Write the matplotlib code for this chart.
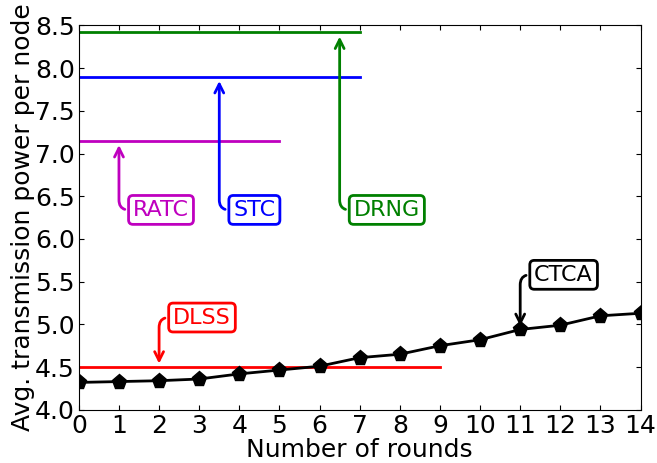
import matplotlib
matplotlib.use("Agg")
import matplotlib.pyplot as plt

rounds = list(range(15))
ctca = [4.32, 4.33, 4.34, 4.36, 4.42, 4.465, 4.51, 4.61, 4.65, 4.75, 4.82, 4.94, 4.99, 5.10, 5.13]

# constant baselines
dlss = 4.50
ratc = 7.15
stc = 7.90
drng = 8.42

fig = plt.figure(figsize=(6.57, 4.63), dpi=100)
ax = fig.add_axes([0.12, 0.115, 0.855, 0.83])

ax.plot([0, 9], [dlss, dlss], color="red", lw=2)
ax.plot([0, 5], [ratc, ratc], color="m", lw=2)
ax.plot([0, 7], [stc, stc], color="blue", lw=2)
ax.plot([0, 7], [drng, drng], color="green", lw=2)
ax.plot(rounds, ctca, color="black", lw=2, marker="p", markersize=11)


def note(text, xy, xytext, color):
    ax.annotate(text, xy=xy, xytext=xytext, color=color, fontsize=16,
                ha="left", va="center",
                bbox=dict(boxstyle="round,pad=0.2", fc="white", ec=color, lw=2),
                arrowprops=dict(arrowstyle="->", color=color, lw=2, shrinkB=0,
                                connectionstyle="angle,angleA=0,angleB=90,rad=10"))


note("RATC", (1, ratc - 0.05), (1.35, 6.34), "m")
note("STC", (3.5, stc - 0.05), (3.85, 6.34), "blue")
note("DRNG", (6.5, drng - 0.05), (6.85, 6.34), "green")
note("DLSS", (2, dlss + 0.04), (2.35, 5.08), "red")
note("CTCA", (11, ctca[11] + 0.04), (11.35, 5.58), "black")

ax.set_xlim(0, 14)
ax.set_ylim(4.0, 8.5)
ax.set_xticks(rounds)
ax.set_yticks([4.0, 4.5, 5.0, 5.5, 6.0, 6.5, 7.0, 7.5, 8.0, 8.5])
ax.tick_params(labelsize=18, direction="in", top=True, right=True, pad=3)
ax.set_xlabel("Number of rounds", fontsize=18, labelpad=0)
ax.set_ylabel("Avg. transmission power per node", fontsize=18, labelpad=0)

fig.savefig("out.png", dpi=100)
